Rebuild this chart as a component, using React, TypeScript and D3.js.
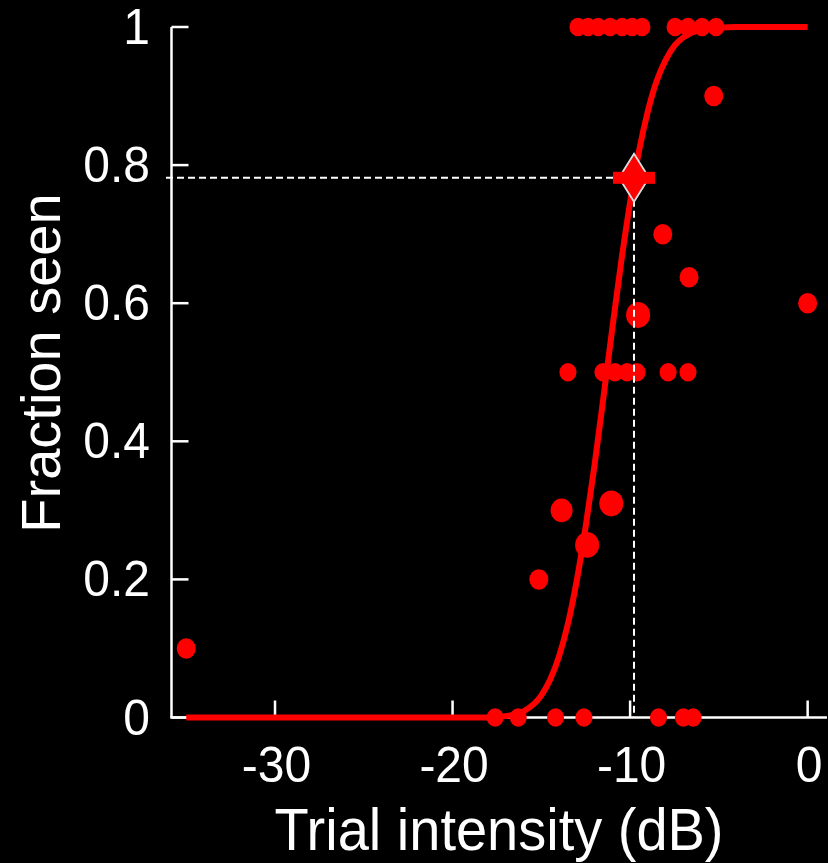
import React from 'react';
import * as d3 from 'd3';

// ---- data ----
const xTicks = [-30, -20, -10, 0];
const xTickLabels = ['-30', '-20', '-10', '0'];
const yTicks = [0, 0.2, 0.4, 0.6, 0.8, 1];
const yTickLabels = ['0', '0.2', '0.4', '0.6', '0.8', '1'];

// individual trial / bin results
const pointX = [
  -12.94, -12.37, -11.8, -11.13, -10.45, -9.89, -9.33, -7.47, -6.74, -5.95, -5.16,
  -13.5, -11.53, -10.85, -10.17, -9.61, -7.86, -6.74,
  -17.6, -16.3, -14.2, -12.6, -8.4, -7.0, -6.45,
  -35, -5.29, 0, -8.16, -6.68, -9.55, -11.06, -12.42, -13.86, -15.14,
];
const pointY = [
  1, 1, 1, 1, 1, 1, 1, 1, 1, 1, 1,
  0.5, 0.5, 0.5, 0.5, 0.5, 0.5, 0.5,
  0, 0, 0, 0, 0, 0, 0,
  0.1, 0.9, 0.6, 0.7, 0.6375, 0.583, 0.31, 0.25, 0.3, 0.2,
];
// relative marker weight (number of presentations class)
const pointWeight = [
  1, 1, 1, 1, 1, 1, 1, 1, 1, 1, 1,
  1, 1, 1, 1, 1, 1, 1,
  1, 1, 1, 1, 1, 1, 1,
  2, 2, 2, 2, 2, 4, 4, 4, 3, 2,
];

// fitted psychometric function
const curveX = [-35, -18, -17, -16, -15, -14.5, -14, -13.5, -13, -12.5, -12, -11.5, -11, -10.5, -10, -9.5, -9, -8.5, -8, -7.5, -7, -6.5, -6, -5, -4, 0];
const curveY = [0, 0, 0.002, 0.009, 0.032, 0.055, 0.089, 0.136, 0.199, 0.277, 0.366, 0.464, 0.564, 0.66, 0.746, 0.82, 0.878, 0.922, 0.952, 0.973, 0.985, 0.992, 0.996, 0.999, 1, 1];

const thresholdX = -9.78;
const thresholdY = 0.7816;

const xLabel = 'Trial intensity (dB)';
const yLabel = 'Fraction seen';

export default function App() {
  const W = 828;
  const H = 863;
  const x = d3.scaleLinear().domain([-35.83, 1.09]).range([171.5, 827]);
  const y = d3.scaleLinear().domain([0, 1]).range([717.5, 27]);
  const r = d3.scaleOrdinal<number, number>().domain([1, 2, 3, 4]).range([8.5, 9.5, 11, 12]);

  const curveData = curveX.map((v, i) => [v, curveY[i]] as [number, number]);
  const line = d3
    .line<[number, number]>()
    .x((d) => x(d[0]))
    .y((d) => y(d[1]))
    .curve(d3.curveMonotoneX);

  const font = '"Liberation Sans", Arial, Helvetica, sans-serif';
  const x0 = x(x.domain()[0]);
  const x1 = x(x.domain()[1]);
  const tickLen = 17;
  const tx = x(thresholdX);
  const ty = y(thresholdY);
  const sy = 1.06;

  return (
    <svg
      width={W}
      height={H}
      style={{ position: 'absolute', left: 0, top: 0, display: 'block', background: '#000' }}
    >
      <rect x={0} y={0} width={W} height={H} fill="#000" />

      {/* axes */}
      <line x1={x0} x2={x0} y1={y(1)} y2={y(0)} stroke="#fff" strokeWidth={2.5} />
      <line x1={x0 - 1.25} x2={x1} y1={y(0)} y2={y(0)} stroke="#fff" strokeWidth={2.5} />
      {yTicks.map((t) => (
        <line key={'yt' + t} x1={x0} x2={x0 + tickLen} y1={y(t)} y2={y(t)} stroke="#fff" strokeWidth={2.5} />
      ))}
      {xTicks.map((t) => (
        <line key={'xt' + t} x1={x(t)} x2={x(t)} y1={y(0)} y2={y(0) - tickLen} stroke="#fff" strokeWidth={2.5} />
      ))}

      {/* tick labels */}
      {yTicks.map((t, i) => (
        <text
          key={'yl' + t}
          transform={`translate(150, ${y(t) + 17}) scale(1, ${sy})`}
          textAnchor="end"
          fill="#fff"
          fontFamily={font}
          fontSize={48}
        >
          {yTickLabels[i]}
        </text>
      ))}
      {xTicks.map((t, i) => (
        <text
          key={'xl' + t}
          transform={`translate(${x(t) + 1.5}, 782) scale(1, ${sy})`}
          textAnchor="middle"
          fill="#fff"
          fontFamily={font}
          fontSize={48}
        >
          {xTickLabels[i]}
        </text>
      ))}

      {/* axis titles */}
      <text
        transform={`translate(499, 850) scale(1, ${sy})`}
        textAnchor="middle"
        fill="#fff"
        fontFamily={font}
        fontSize={56}
      >
        {xLabel}
      </text>
      <text
        transform={`translate(60, 363) rotate(-90) scale(1.0, 1.0)`}
        textAnchor="middle"
        fill="#fff"
        fontFamily={font}
        fontSize={56}
      >
        {yLabel}
      </text>

      {/* data points */}
      {pointX.map((v, i) => (
        <ellipse
          key={'p' + i}
          cx={x(v)}
          cy={y(pointY[i])}
          rx={r(pointWeight[i])}
          ry={r(pointWeight[i]) * 1.08}
          fill="#ff0000"
        />
      ))}

      {/* fitted curve */}
      <path d={line(curveData) || ''} fill="none" stroke="#ff0000" strokeWidth={6} strokeLinejoin="round" />

      {/* threshold guides */}
      <line x1={166} x2={tx} y1={ty} y2={ty} stroke="#fff" strokeWidth={2} strokeDasharray="7,4" />
      <line x1={tx} x2={tx} y1={ty} y2={y(0)} stroke="#fff" strokeWidth={2} strokeDasharray="7,4" />

      {/* threshold marker */}
      <path
        d={`M${tx},${ty - 24} L${tx + 15},${ty} L${tx},${ty + 24} L${tx - 15},${ty} Z`}
        fill="#ff0000"
        stroke="#ddd"
        strokeWidth={1.8}
      />
      <rect x={tx - 21} y={ty - 6} width={42} height={12} fill="#ff0000" />
    </svg>
  );
}
